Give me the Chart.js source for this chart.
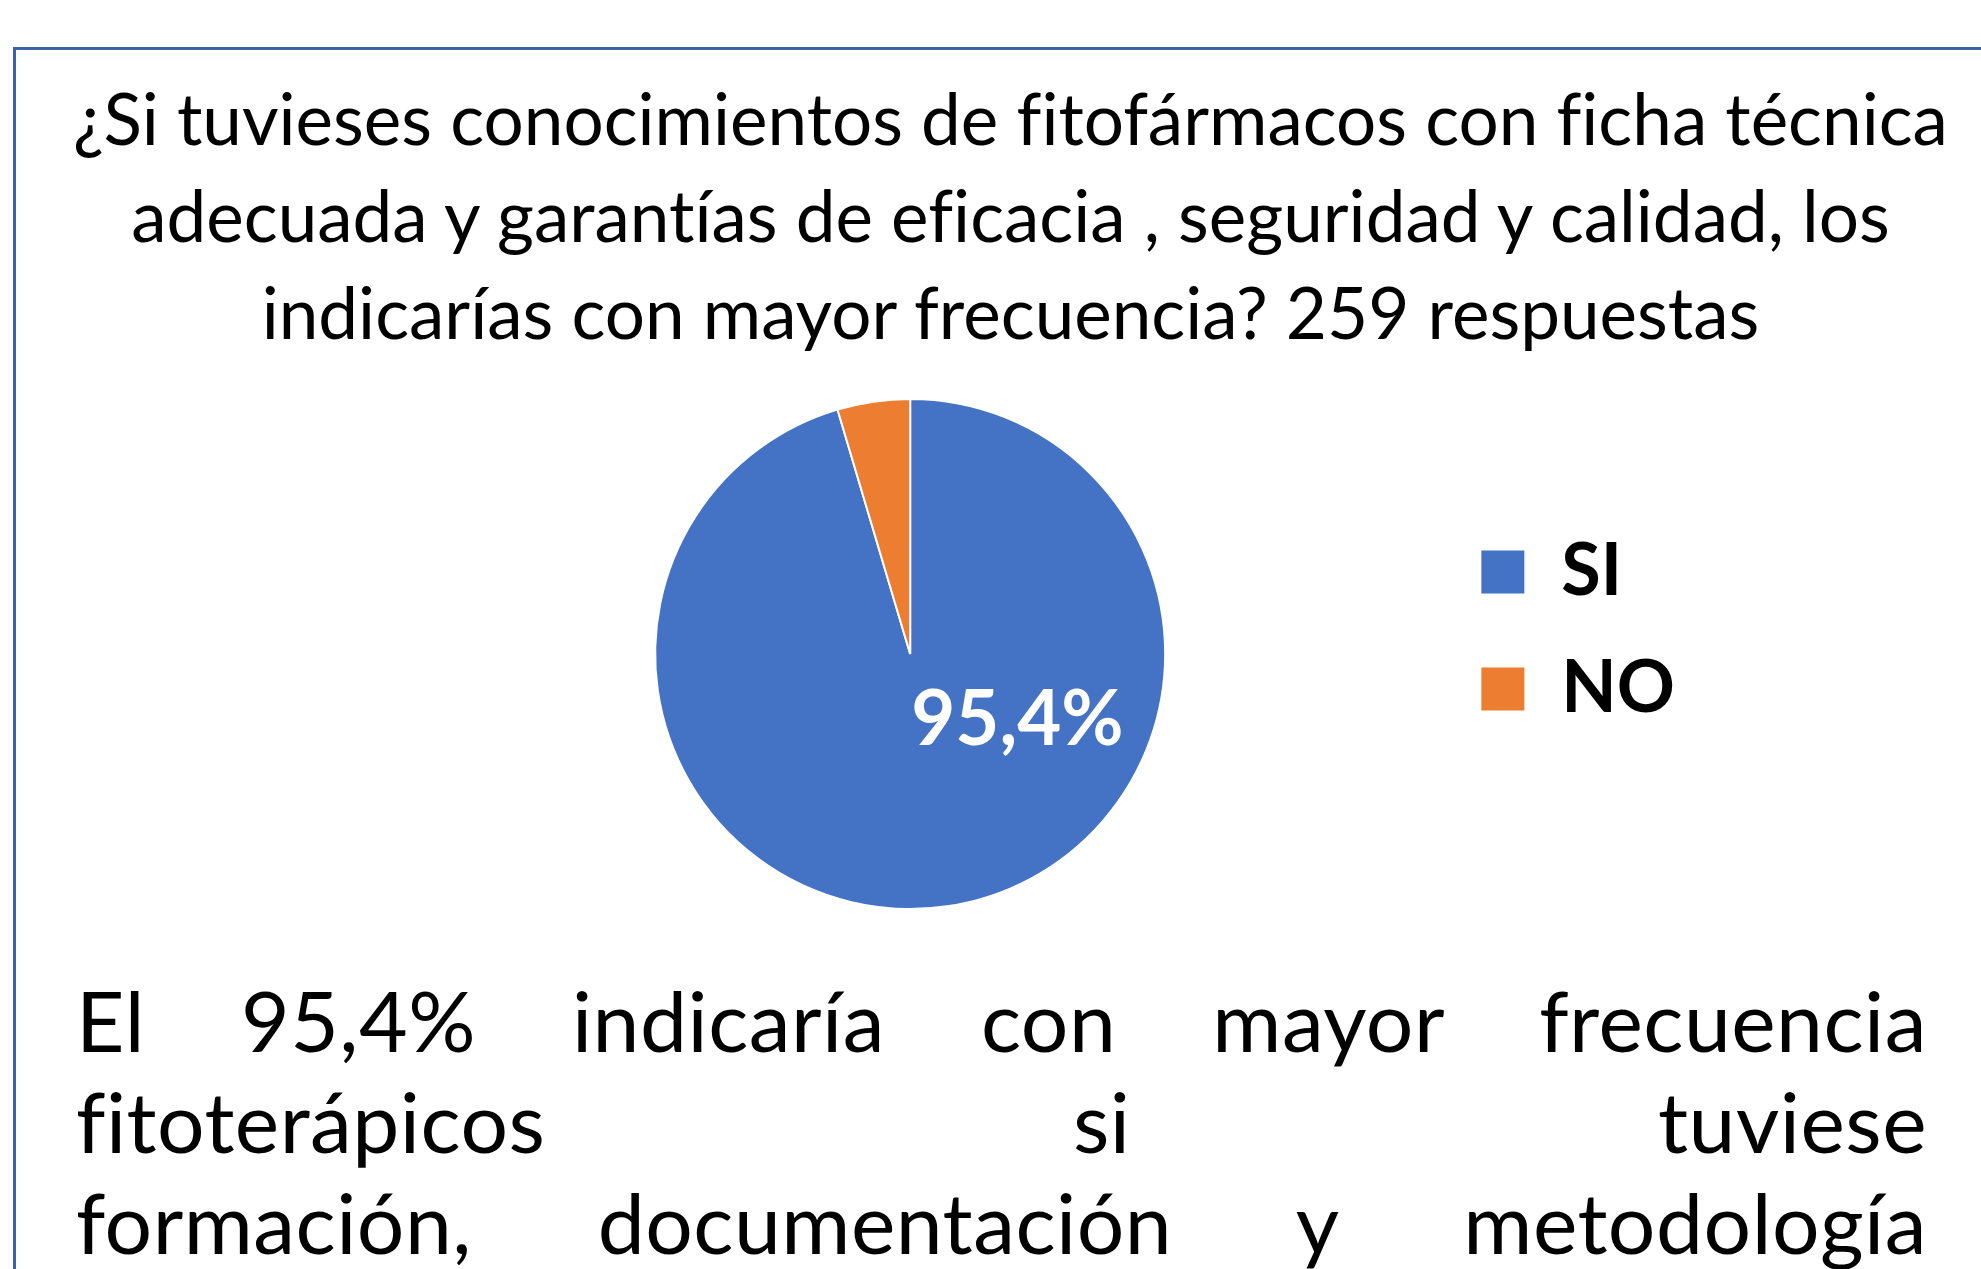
<!DOCTYPE html>
<html lang="es">
<head>
<meta charset="utf-8">
<title>Fitofármacos - encuesta</title>
<script src="https://cdn.jsdelivr.net/npm/chart.js@4.4.1/dist/chart.umd.min.js"></script>
<style>
    html, body {
        margin: 0;
        padding: 0;
        background: #fff;
        width: 1981px;
        height: 1269px;
        overflow: hidden;
        font-family: Lato, sans-serif;
        font-variant-ligatures: none;
        color: #000;
    }
    .marco {
        position: absolute;
        left: 13px;
        top: 47px;
        right: -10px;
        bottom: -10px;
        border-top: 3px solid #3d62a2;
        border-left: 3px solid #3d62a2;
    }
    .titulo {
        position: absolute;
        left: 40px;
        width: 1941px;
        top: 69px;
        text-align: center;
        font-size: 71px;
        line-height: 97px;
    }
    #grafico {
        position: absolute;
        left: 360px;
        top: 388px;
    }
    .nota {
        position: absolute;
        left: 76px;
        width: 1851px;
        top: 969px;
        font-size: 84px;
        line-height: 101px;
        letter-spacing: 0.5px;
    }
    .nota div {
        text-align: justify;
        text-align-last: justify;
    }
</style>
</head>
<body>
<div class="marco"></div>
<div class="titulo">
    ¿Si tuvieses conocimientos de fitofármacos con ficha técnica<br>
    adecuada y garantías de eficacia , seguridad y calidad, los<br>
    indicarías con mayor frecuencia? 259 respuestas
</div>
<canvas id="grafico" width="1325" height="530"></canvas>
<div class="nota">
    <div>El 95,4% indicaría con mayor frecuencia</div>
    <div>fitoterápicos si tuviese</div>
    <div>formación, documentación y metodología</div>
</div>

<script>
// Datos del gráfico
const categorias = ['SI', 'NO'];
const porcentajes = [95.4, 4.6];
const colores = ['#4472C4', '#ED7D31'];
const conEtiqueta = [true, false];

// etiqueta blanca dentro del sector (como en Excel)
const etiquetaSector = {
    id: 'etiquetaSector',
    afterDatasetsDraw(chart, args, opts) {
        const ctx = chart.ctx;
        const meta = chart.getDatasetMeta(0);
        meta.data.forEach((arc, i) => {
            if (!conEtiqueta[i]) return;
            const {x, y, outerRadius} = arc.getProps(['x', 'y', 'outerRadius'], true);
            const ang = opts.angulo * Math.PI / 180;
            const px = x + Math.cos(ang) * outerRadius * opts.distancia;
            const py = y + Math.sin(ang) * outerRadius * opts.distancia;
            const texto = String(porcentajes[i]).replace('.', ',') + '%';
            ctx.save();
            ctx.font = 'bold ' + opts.tam + 'px Lato';
            ctx.fillStyle = '#fff';
            ctx.textAlign = 'center';
            ctx.textBaseline = 'alphabetic';
            ctx.fillText(texto, px, py + opts.tam * 0.36);
            ctx.restore();
        });
    }
};

new Chart(document.getElementById('grafico'), {
    type: 'pie',
    data: {
        labels: categorias,
        datasets: [{
            data: porcentajes,
            backgroundColor: colores,
            borderColor: '#fff',
            borderWidth: 2,
            hoverOffset: 0
        }]
    },
    options: {
        responsive: false,
        animation: false,
        events: [],
        devicePixelRatio: 1,
        layout: {
            padding: { left: 25, top: 10, bottom: 8, right: 0 }
        },
        plugins: {
            tooltip: { enabled: false },
            legend: {
                position: 'right',
                align: 'start',
                title: {
                    display: true,
                    text: '',
                    font: { size: 10, lineHeight: 1 },
                    padding: { top: 83, bottom: 0 }
                },
                labels: {
                    boxWidth: 45,
                    boxHeight: 45,
                    padding: 45,
                    color: '#000',
                    font: { family: 'Lato', size: 72, weight: 'bold' }
                }
            },
            etiquetaSector: { angulo: 30.5, distancia: 0.488, tam: 76 }
        }
    },
    plugins: [etiquetaSector]
});
</script>
</body>
</html>
